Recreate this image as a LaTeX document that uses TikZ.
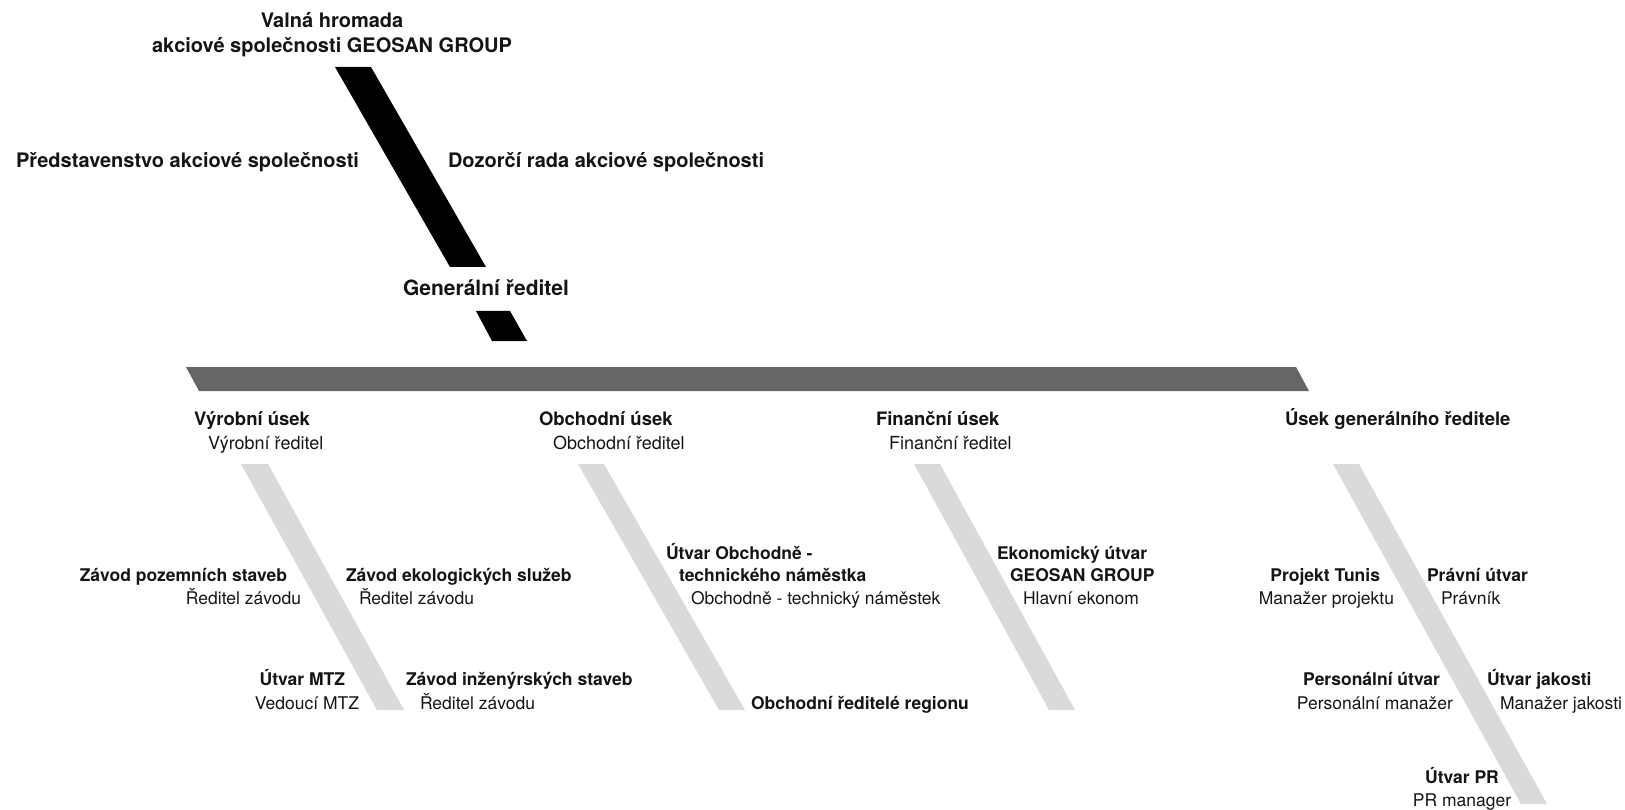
\documentclass[tikz,border=0pt]{standalone}
\usepackage{fontspec}
\setmainfont{TeX Gyre Heros}
\definecolor{barblack}{rgb}{0,0,0}
\definecolor{bardark}{RGB}{102,102,104}
\definecolor{barlight}{RGB}{217,218,220}
\definecolor{txt}{RGB}{20,20,20}
\begin{document}
\begin{tikzpicture}[x=1pt,y=-1pt,
  every node/.style={inner sep=0pt,outer sep=0pt,text=txt},
  topb/.style={font=\fontsize{20}{24}\selectfont\bfseries},
  genb/.style={font=\fontsize{21}{25}\selectfont\bfseries},
  secb/.style={font=\fontsize{18.5}{22}\selectfont\bfseries},
  secr/.style={font=\fontsize{18}{22}\selectfont},
  subb/.style={font=\fontsize{17.5}{21}\selectfont\bfseries},
  subr/.style={font=\fontsize{17.5}{21}\selectfont},
  L/.style={anchor=base west},
  R/.style={anchor=base east},
  C/.style={anchor=base}]
\useasboundingbox (0,0) rectangle (1625,810);
% bars
\fill[barblack] (335,67) -- (371,67) -- (486,267) -- (450,267) -- cycle;
\fill[barblack] (476,311) -- (510,311) -- (527,341) -- (492,341) -- cycle;
\fill[bardark] (186,367) -- (1296,367) -- (1309,391) -- (199,391) -- cycle;
\fill[barlight] (241,464) -- (268,464) -- (404,710) -- (377,710) -- cycle;
\fill[barlight] (578,464) -- (604,464) -- (745,710) -- (719,710) -- cycle;
\fill[barlight] (914,464) -- (940,464) -- (1075,710) -- (1049,710) -- cycle;
\fill[barlight] (1333,464) -- (1359,464) -- (1547,804) -- (1521,804) -- cycle;
% top
\node[topb,C] (vh1) at (332,28) {Valná hromada};
\node[topb,C] (vh2) at (332,53) {akciové společnosti GEOSAN GROUP};
\node[topb,R] (pred) at (359,168) {Představenstvo akciové společnosti};
\node[topb,L] (dozor) at (448,168) {Dozorčí rada akciové společnosti};
\node[genb,L] (gen) at (403,296) {Generální ředitel};
% sections
\node[secb,L] (vyr) at (194,425.5) {Výrobní úsek};
\node[secr,L] (vyrr) at (208,449) {Výrobní ředitel};
\node[secb,L] (obch) at (539,425.5) {Obchodní úsek};
\node[secr,L] (obchr) at (553,449) {Obchodní ředitel};
\node[secb,L] (fin) at (876,425.5) {Finanční úsek};
\node[secr,L] (finr) at (889,449) {Finanční ředitel};
\node[secb,L] (usek) at (1285,425.5) {Úsek generálního ředitele};
% Vyrobni
\node[subb,R] (zps) at (287,581) {Závod pozemních staveb};
\node[subr,R] (zpsr) at (301,604) {Ředitel závodu};
\node[subb,L] (zes) at (346,581) {Závod ekologických služeb};
\node[subr,L] (zesr) at (359,604) {Ředitel závodu};
\node[subb,R] (mtz) at (345,685) {Útvar MTZ};
\node[subr,R] (mtzr) at (359,709) {Vedoucí MTZ};
\node[subb,L] (zis) at (406,685) {Závod inženýrských staveb};
\node[subr,L] (zisr) at (420,709) {Ředitel závodu};
% Obchodni
\node[subb,L] (uon1) at (666,559) {Útvar Obchodně -};
\node[subb,L] (uon2) at (679,581) {technického náměstka};
\node[subr,L] (uonr) at (691,604) {Obchodně - technický náměstek};
\node[subb,L] (ored) at (751,709) {Obchodní ředitelé regionu};
% Financni
\node[subb,L] (eko1) at (997,559) {Ekonomický útvar};
\node[subb,L] (eko2) at (1010,581) {GEOSAN GROUP};
\node[subr,L] (ekor) at (1023,604) {Hlavní ekonom};
% Usek GR
\node[subb,R] (tun) at (1380,581) {Projekt Tunis};
\node[subr,R] (tunr) at (1394,604) {Manažer projektu};
\node[subb,L] (prav) at (1427,581) {Právní útvar};
\node[subr,L] (pravr) at (1441,604) {Právník};
\node[subb,R] (pers) at (1440,685) {Personální útvar};
\node[subr,R] (persr) at (1453,709) {Personální manažer};
\node[subb,L] (jak) at (1487,685) {Útvar jakosti};
\node[subr,L] (jakr) at (1500,709) {Manažer jakosti};
\node[subb,C] (pr) at (1462,783) {Útvar PR};
\node[subr,C] (prr) at (1462,806) {PR manager};
\end{tikzpicture}
\end{document}
